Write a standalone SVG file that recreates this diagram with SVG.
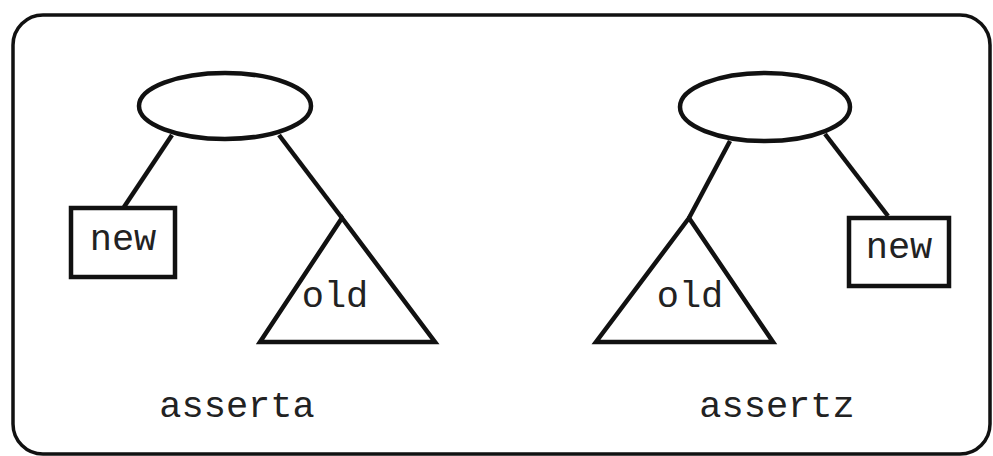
<svg xmlns="http://www.w3.org/2000/svg" width="993" height="456" viewBox="0 0 993 456">
<style>
.s{fill:#fff;stroke:#111;stroke-width:4.5;stroke-linejoin:miter}
.c{fill:none;stroke:#111;stroke-width:4.5}
.t{font-family:"Liberation Mono","Courier New",monospace;font-size:37px;fill:#222}
</style>
<rect x="0" y="0" width="993" height="456" fill="#fff"/>
<g id="frame"><rect x="13" y="15" width="977" height="439" rx="30" ry="30" fill="none" stroke="#111" stroke-width="3.5"/></g>
<g id="connectors">
<line class="c" x1="172" y1="135" x2="124" y2="207"/>
<line class="c" x1="279" y1="135" x2="342" y2="218"/>
<line class="c" x1="730" y1="141" x2="689" y2="218"/>
<line class="c" x1="825" y1="134" x2="888" y2="216"/>
</g>
<g id="rootA"><ellipse class="s" cx="225" cy="106" rx="86" ry="33"/></g>
<g id="newA"><rect class="s" x="71" y="208" width="104" height="69"/><text class="t" x="123" y="250" text-anchor="middle">new</text></g>
<g id="oldA"><polygon class="s" points="342,218 435,342 260,342"/><text class="t" x="335" y="307" text-anchor="middle">old</text></g>
<g id="rootZ"><ellipse class="s" cx="765" cy="107" rx="85" ry="34"/></g>
<g id="newZ"><rect class="s" x="849" y="218" width="100" height="68"/><text class="t" x="899" y="258" text-anchor="middle">new</text></g>
<g id="oldZ"><polygon class="s" points="689,218 773,342 596,342"/><text class="t" x="690" y="307" text-anchor="middle">old</text></g>
<text class="t" x="237" y="417" text-anchor="middle">asserta</text>
<text class="t" x="777" y="417" text-anchor="middle">assertz</text>
</svg>
